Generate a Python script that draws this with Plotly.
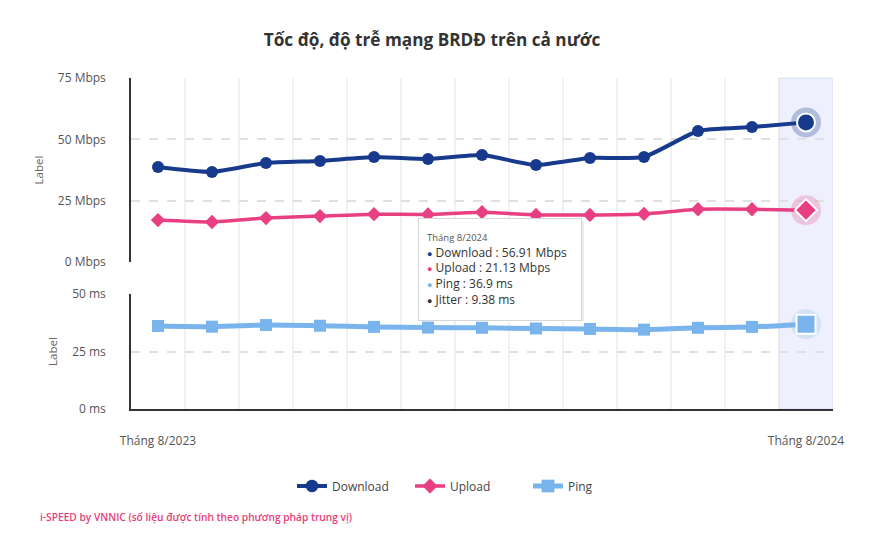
import plotly.graph_objects as go

months = ["Tháng 8/2023", "Tháng 9/2023", "Tháng 10/2023", "Tháng 11/2023", "Tháng 12/2023",
          "Tháng 1/2024", "Tháng 2/2024", "Tháng 3/2024", "Tháng 4/2024", "Tháng 5/2024",
          "Tháng 6/2024", "Tháng 7/2024", "Tháng 8/2024"]
download = [38.7, 36.7, 40.4, 41.2, 42.8, 42.0, 43.6, 39.5, 42.4, 42.8, 53.4, 55.0, 56.91]
upload = [17.1, 16.3, 17.9, 18.7, 19.5, 19.4, 20.3, 19.2, 19.2, 19.6, 21.5, 21.5, 21.13]
ping = [36.1, 35.8, 36.5, 36.2, 35.7, 35.4, 35.3, 35.0, 34.8, 34.5, 35.3, 35.7, 36.9]
jitter_last = 9.38

C_DL = "#173a8c"
C_UL = "#e83e82"
C_PING = "#7ab4ec"
FONT = "Open Sans"

# page body has an 8px offset; plot area target in page px: x 131..833, y 78..409
OFF = 8
PL, PR, PT, PB = 131 - OFF, 833 - OFF, 78 - OFF, 409 - OFF
W, H = 884, 539
PW, PH = PR - PL, PB - PT


def px_x(x):
    return (x - OFF - PL) / PW


def px_y(y):
    return (PB - (y - OFF)) / PH


n = len(months)
fig = go.Figure()

# halos for the highlighted (last) point
fig.add_trace(go.Scatter(x=[months[-1]], y=[download[-1]], mode="markers", xaxis="x", yaxis="y",
                         marker=dict(size=30, color="rgba(23,58,140,0.28)"), showlegend=False, hoverinfo="skip"))
fig.add_trace(go.Scatter(x=[months[-1]], y=[upload[-1]], mode="markers", xaxis="x", yaxis="y",
                         marker=dict(size=30, color="rgba(232,62,130,0.25)"), showlegend=False, hoverinfo="skip"))
fig.add_trace(go.Scatter(x=[months[-1]], y=[ping[-1]], mode="markers", xaxis="x2", yaxis="y2",
                         marker=dict(size=30, color="rgba(122,180,236,0.25)"), showlegend=False, hoverinfo="skip"))


def series(x, y, name, color, symbol, size, big, lw, xa, ya):
    return go.Scatter(x=x, y=y, name=name, mode="lines+markers", xaxis=xa, yaxis=ya,
                      line=dict(color=color, width=lw, shape="spline", smoothing=0.5),
                      marker=dict(symbol=symbol, size=[size] * (n - 1) + [big], color=color, opacity=1,
                                  line=dict(color=[color] * (n - 1) + ["white"], width=[0] * (n - 1) + [2])))


fig.add_trace(series(months, download, "Download", C_DL, "circle", 12, 18, 4, "x", "y"))
fig.add_trace(series(months, upload, "Upload", C_UL, "diamond", 11, 17, 3.5, "x", "y"))
fig.add_trace(series(months, ping, "Ping", C_PING, "square", 12, 19, 5, "x2", "y2"))

shapes = []
# hover band on last category
shapes.append(dict(type="rect", xref="x", yref="paper", x0=n - 1.5, x1=n - 0.5,
                   y0=0, y1=1, fillcolor="#eef0fd", line=dict(color="#dde1f3", width=1), layer="below"))
# vertical category boundary grid lines spanning both panels
for i in range(1, n):
    shapes.append(dict(type="line", xref="x", yref="paper", x0=i - 0.5, x1=i - 0.5, y0=0, y1=1,
                       line=dict(color="#e3e3e3", width=1), layer="below"))

# tooltip box
tip = ("<span style='font-size:9.5px;color:#555'>Tháng 8/2024</span><br>"
       f"<span style='color:{C_DL};font-size:9px'>●</span> Download : {download[-1]:.2f} Mbps<br>"
       f"<span style='color:{C_UL};font-size:9px'>●</span> Upload : {upload[-1]:.2f} Mbps<br>"
       f"<span style='color:{C_PING};font-size:9px'>●</span> Ping : {ping[-1]:.1f} ms<br>"
       f"<span style='color:#333;font-size:9px'>●</span> Jitter : {jitter_last:.2f} ms")

# soft shadow for tooltip
shapes.append(dict(type="rect", xref="paper", yref="paper", x0=px_x(420), x1=px_x(584),
                   y0=px_y(321), y1=px_y(221), fillcolor="rgba(0,0,0,0.07)", line=dict(width=0), layer="above"))

annotations = [
    dict(text=tip, xref="paper", yref="paper", x=px_x(418), y=px_y(218),
         xanchor="left", yanchor="top", align="left", showarrow=False, width=146, height=85,
         bgcolor="white", bordercolor="#d6d6d6", borderwidth=1, borderpad=8,
         font=dict(family=FONT, size=12, color="#333")),
    dict(text="i-SPEED by VNNIC (số liệu được tính theo phương pháp trung vị)", xref="paper", yref="paper",
         x=px_x(38), y=px_y(517), xanchor="left", yanchor="middle", showarrow=False,
         font=dict(family=FONT, size=10.2, color="#e8407a", weight=600)),
]

grid = dict(showgrid=True, gridcolor="#e0e0e0", griddash="dash", gridwidth=1.5)

fig.update_layout(
    width=W, height=H,
    margin=dict(l=PL, r=W - PR, t=PT, b=H - PB),
    paper_bgcolor="white", plot_bgcolor="rgba(0,0,0,0)",
    font=dict(family=FONT, size=12, color="#555"),
    title=dict(text="<b>Tốc độ, độ trễ mạng BRDĐ trên cả nước</b>", x=(432 - OFF) / W, xanchor="center",
               y=1 - (40 - OFF) / H, yanchor="middle", font=dict(family=FONT, size=17.2, color="#333")),
    xaxis=dict(domain=[0, 1], anchor="y", type="category", categoryorder="array", categoryarray=months,
               showticklabels=False, showgrid=False, zeroline=False, showline=False,
               range=[-0.5, n - 0.5], matches="x2"),
    xaxis2=dict(domain=[0, 1], anchor="y2", type="category", categoryorder="array", categoryarray=months,
                tickvals=[months[0], months[-1]], ticktext=[months[0], months[-1]],
                ticks="", ticklabelstandoff=20, showgrid=False, zeroline=False,
                showline=True, linecolor="#333", linewidth=1.5, range=[-0.5, n - 0.5],
                tickfont=dict(size=12, color="#555")),
    yaxis=dict(domain=[px_y(262), 1], anchor="x", range=[0, 75], dtick=25, ticksuffix=" Mbps",
               showline=True, linecolor="#333", linewidth=1.5, zeroline=False, ticks="", ticklabelstandoff=21,
               tickfont=dict(size=12, color="#555"),
               title=dict(text="Label", standoff=12, font=dict(size=11.5, color="#666")), **grid),
    yaxis2=dict(domain=[0, px_y(294)], anchor="x2", range=[0, 50], dtick=25, ticksuffix=" ms",
                showline=True, linecolor="#333", linewidth=1.5, zeroline=False, ticks="", ticklabelstandoff=21,
                tickfont=dict(size=12, color="#555"),
                title=dict(text="Label", standoff=12, font=dict(size=11.5, color="#666")), **grid),
    legend=dict(orientation="h", x=px_x(292), xanchor="left", y=px_y(486), yanchor="middle",
                font=dict(size=12, color="#444"), itemwidth=30, traceorder="normal",
                entrywidth=73, entrywidthmode="pixels"),
    shapes=shapes,
    annotations=annotations,
    hovermode=False,
)

fig.write_html("out.html")
